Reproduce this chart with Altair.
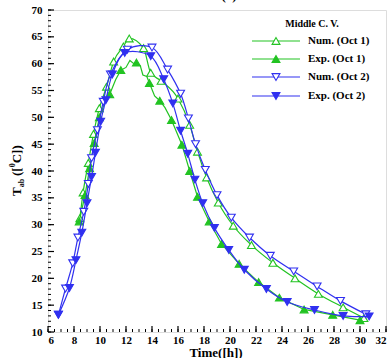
import altair as alt
import pandas as pd

GREEN = "#22c322"
BLUE = "#3030f0"
FONT = "Liberation Serif"

# ---- data ----
# Num. (Oct 1)  open up-triangles, green
num1_t = [8.45, 8.7, 9.1, 9.5, 9.95, 10.5, 11.05, 11.8, 12.25, 13.35, 13.9, 14.7, 16.0, 16.9, 17.5, 18.2, 19.1, 20.25, 21.65, 23.3, 25.0, 26.8, 28.7, 30.3]
num1_T = [31.2, 36.0, 41.5, 46.9, 51.7, 55.7, 60.4, 63.2, 64.7, 62.9, 58.3, 56.8, 53.5, 48.6, 43.6, 38.8, 34.1, 29.8, 26.2, 22.9, 20.0, 17.1, 14.6, 12.6]

# Exp. (Oct 1)  filled up-triangles, green (markers)
exp1_t = [8.4, 8.85, 9.2, 9.55, 9.95, 10.75, 11.6, 12.8, 13.8, 14.6, 15.5, 16.3, 16.9, 17.5, 18.4, 19.35, 20.7, 22.2, 23.8, 25.7, 27.9, 30.0]
exp1_T = [30.6, 35.5, 40.5, 45.2, 50.0, 54.3, 58.8, 60.2, 56.4, 53.1, 49.5, 44.9, 40.0, 35.2, 30.6, 26.4, 22.7, 19.3, 16.4, 14.2, 13.2, 12.2]
# Exp. (Oct 1) measured trace (noisy line)
exp1_line_t = [8.4, 8.85, 9.2, 9.55, 9.95, 10.3, 10.75, 11.2, 11.6, 12.0, 12.3, 12.6, 12.8, 13.1, 13.3, 13.6, 13.8, 14.2, 14.6, 15.0, 15.5, 16.3, 16.9, 17.5, 18.4, 19.35, 20.7, 22.2, 23.8, 25.7, 27.9, 30.0]
exp1_line_T = [30.6, 35.5, 40.5, 45.2, 50.0, 52.3, 54.3, 57.0, 58.8, 59.3, 60.6, 60.0, 60.2, 59.6, 57.9, 57.6, 56.4, 54.0, 53.1, 51.8, 49.5, 44.9, 40.0, 35.2, 30.6, 26.4, 22.7, 19.3, 16.4, 14.2, 13.2, 12.2]

# Num. (Oct 2)  open down-triangles, blue
num2_t = [6.8, 7.35, 7.9, 8.3, 8.75, 9.1, 9.35, 9.8, 10.25, 10.8, 12.1, 14.0, 15.2, 16.2, 16.8, 17.35, 18.1, 19.0, 20.1, 21.5, 23.1, 24.9, 26.7, 28.5, 30.45]
num2_T = [13.2, 18.1, 22.8, 27.6, 32.4, 37.6, 42.4, 47.6, 52.9, 58.0, 62.6, 63.0, 58.9, 54.4, 49.8, 45.0, 40.2, 35.5, 31.3, 27.6, 24.2, 21.3, 18.5, 15.8, 13.3]

# Exp. (Oct 2)  filled down-triangles, blue
exp2_t = [6.8, 7.65, 8.15, 8.6, 9.0, 9.35, 9.65, 10.05, 10.45, 10.95, 11.9, 13.9, 14.9, 15.6, 16.2, 16.75, 17.3, 17.9, 18.8, 19.9, 21.1, 22.8, 24.4, 26.5, 28.7, 30.7]
exp2_T = [13.2, 18.2, 23.4, 28.5, 34.0, 38.9, 43.4, 49.2, 53.2, 58.0, 62.0, 61.4, 57.1, 52.6, 47.5, 43.2, 38.4, 34.0, 29.4, 25.3, 21.6, 18.0, 15.6, 14.1, 13.0, 12.9]

x_ticks = list(range(6, 33, 2))
y_ticks = list(range(10, 71, 5))
x_minor = [6 + 0.5 * i for i in range(53)]
y_minor = list(range(10, 71))

legend_labels = ["Num. (Oct 1)", "Exp. (Oct 1)", "Num. (Oct 2)", "Exp. (Oct 2)"]
legend_title = "Middle C. V."

W, H = 338, 322

xs = alt.Scale(domain=[6, 32], nice=False, zero=False)
ys = alt.Scale(domain=[10, 70], nice=False, zero=False)

axis_common = dict(labelFont=FONT, labelFontWeight="bold", labelFontSize=11, labelColor="black",
                   ticks=False, domain=False, grid=False, title=None)
x_axis = alt.Axis(values=x_ticks, labelPadding=2, **axis_common)
y_axis = alt.Axis(values=y_ticks, labelPadding=6, **axis_common)


def X(field="t"):
    return alt.X(f"{field}:Q", scale=xs, axis=x_axis)


def Y(field="T"):
    return alt.Y(f"{field}:Q", scale=ys, axis=y_axis)


def df(t, T):
    return pd.DataFrame({"t": t, "T": T})


def line(d, color, interp):
    return alt.Chart(d).mark_line(color=color, strokeWidth=1.2, interpolate=interp, clip=True).encode(
        x=X(), y=Y())


def pts(d, color, shape, filled):
    return alt.Chart(d).mark_point(shape=shape, size=62, filled=True,
                                   fill=color if filled else "white",
                                   stroke=color, strokeWidth=1.1, opacity=1).encode(x=X(), y=Y())


# inward ticks
xt_major = alt.Chart(pd.DataFrame({"t": x_ticks})).mark_rule(color="black", strokeWidth=1.2).encode(
    x=X(), y=alt.value(H), y2=alt.value(H - 6))
xt_minor = alt.Chart(pd.DataFrame({"t": x_minor})).mark_rule(color="black", strokeWidth=1).encode(
    x=X(), y=alt.value(H), y2=alt.value(H - 3))
yt_major = alt.Chart(pd.DataFrame({"T": y_ticks})).mark_rule(color="black", strokeWidth=1.2).encode(
    y=Y(), x=alt.value(0), x2=alt.value(6))
yt_minor = alt.Chart(pd.DataFrame({"T": y_minor})).mark_rule(color="black", strokeWidth=1).encode(
    y=Y(), x=alt.value(0), x2=alt.value(3))

series = [
    line(df(num1_t, num1_T), GREEN, "monotone"),
    pts(df(num1_t, num1_T), GREEN, "triangle-up", False),
    line(df(exp1_line_t, exp1_line_T), GREEN, "linear"),
    pts(df(exp1_t, exp1_T), GREEN, "triangle-up", True),
    line(df(num2_t, num2_T), BLUE, "cardinal"),
    pts(df(num2_t, num2_T), BLUE, "triangle-down", False),
    line(df(exp2_t, exp2_T), BLUE, "cardinal"),
    pts(df(exp2_t, exp2_T), BLUE, "triangle-down", True),
]

one = pd.DataFrame({"a": [0]})
leg = []
leg_styles = [(GREEN, "triangle-up", False), (GREEN, "triangle-up", True),
              (BLUE, "triangle-down", False), (BLUE, "triangle-down", True)]
leg_y = [31, 49, 67, 86]
leg.append(alt.Chart(one).mark_text(text=legend_title, font=FONT, fontWeight="bold", fontSize=10,
                                    align="center", baseline="middle", color="black").encode(
    x=alt.value(264), y=alt.value(14)))
for lab, (col, shp, fil), yy in zip(legend_labels, leg_styles, leg_y):
    leg.append(alt.Chart(one).mark_rule(color=col, strokeWidth=1.2).encode(
        x=alt.value(204), x2=alt.value(252), y=alt.value(yy)))
    leg.append(alt.Chart(one).mark_point(shape=shp, size=62, filled=True, fill=col if fil else "white",
                                         stroke=col, strokeWidth=1.1, opacity=1).encode(
        x=alt.value(228), y=alt.value(yy)))
    leg.append(alt.Chart(one).mark_text(text=lab, font=FONT, fontWeight="bold", fontSize=11,
                                        align="left", baseline="middle", color="black").encode(
        x=alt.value(260), y=alt.value(yy)))

# axis titles
texts = []
texts.append(alt.Chart(one).mark_text(text="Time([h])", font=FONT, fontWeight="bold", fontSize=13,
                                      align="center", baseline="alphabetic", color="black").encode(
    x=alt.value(168), y=alt.value(346.5)))
texts.append(alt.Chart(one).mark_text(text="(a)", font=FONT, fontWeight="bold", fontSize=13,
                                      align="center", baseline="alphabetic", color="black").encode(
    x=alt.value(181), y=alt.value(-10)))
# rotated y title: T_ab ([^0C])
ypieces = [("T", 13, -27, 186), ("ab", 8, -24, 177.3), ("([", 13, -27, 166.0),
           ("0", 8, -33, 157.3), ("C])", 13, -27, 153.3)]
for s, fs, xx, yy in ypieces:
    texts.append(alt.Chart(one).mark_text(text=s, font=FONT, fontWeight="bold", fontSize=fs, angle=270,
                                          align="left", baseline="alphabetic", color="black").encode(
        x=alt.value(xx), y=alt.value(yy)))

chart = alt.layer(xt_minor, xt_major, yt_minor, yt_major, *series, *leg, *texts).properties(
    width=W, height=H,
    autosize=alt.AutoSizeParams(type="none"),
    padding={"left": 48, "top": 10, "right": 6, "bottom": 26},
).configure_view(stroke="black", strokeWidth=2).configure(background="white")

chart.save("out.html", embed_options={"renderer": "svg", "actions": False})
